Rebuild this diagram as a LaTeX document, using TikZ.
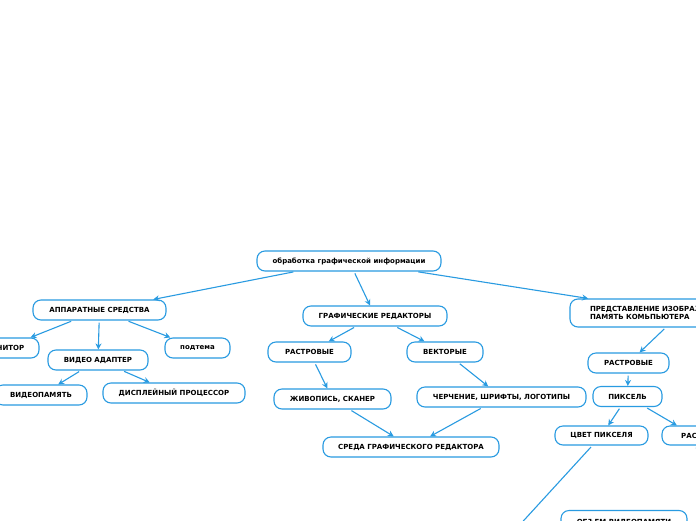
\documentclass[tikz,border=0pt]{standalone}
\usepackage{fontspec}
\setmainfont{DejaVu Sans}
\usetikzlibrary{arrows.meta}

\definecolor{mapblue}{RGB}{41,155,225}

\begin{document}
\begin{tikzpicture}[x=1pt,y=-1pt,
    topic/.style={draw=mapblue, line width=1.1pt, rounded corners=8pt, fill=white,
        minimum height=20pt, inner sep=2pt, font=\fontsize{7}{8.4}\selectfont\bfseries},
    link/.style={draw=mapblue, line width=1.1pt, shorten <=2pt,
        -{Stealth[length=6pt,width=6pt]}}]

    % Fix the frame of the picture
    \path[use as bounding box, clip] (0,0) rectangle (696,520);
    \fill[white] (0,0) rectangle (696,520);

    % Central topic
    \node[topic, minimum width=184pt] (root) at (349,261) {обработка графической информации};

    % Hardware branch
    \node[topic, minimum width=133pt] (hard) at (99.5,310) {АППАРАТНЫЕ СРЕДСТВА};
    \node[topic, minimum width=70pt] (monitor) at (4,348) {МОНИТОР};
    \node[topic, minimum width=100pt] (adapter) at (98,360) {ВИДЕО АДАПТЕР};
    \node[topic, minimum width=65pt] (subtopic) at (197.5,348) {подтема};
    \node[topic, minimum width=92pt] (vmem) at (41,395) {ВИДЕОПАМЯТЬ};
    \node[topic, minimum width=142pt] (cpu) at (174,393) {ДИСПЛЕЙНЫЙ ПРОЦЕССОР};

    % Editors branch
    \node[topic, minimum width=144pt] (editors) at (375,316) {ГРАФИЧЕСКИЕ РЕДАКТОРЫ};
    \node[topic, minimum width=83pt] (raster) at (309.5,352) {РАСТРОВЫЕ};
    \node[topic, minimum width=76pt] (vector) at (445,352) {ВЕКТОРЫЕ};
    \node[topic, minimum width=117pt] (paint) at (332.5,399) {ЖИВОПИСЬ, СКАНЕР};
    \node[topic, minimum width=169pt] (drawing) at (501.5,397) {ЧЕРЧЕНИЕ, ШРИФТЫ, ЛОГОТИПЫ};
    \node[topic, minimum width=176pt] (env) at (411,447) {СРЕДА ГРАФИЧЕСКОГО РЕДАКТОРА};

    % Representation branch
    \node[topic, minimum height=28pt, text width=182pt, inner xsep=20pt, align=left,
        font=\fontsize{7}{8.6}\selectfont\bfseries] (repr) at (681,313)
        {ПРЕДСТАВЛЕНИЕ ИЗОБРАЖЕНИЯ В\\ПАМЯТЬ КОМЬПЬЮТЕРА};
    \node[topic, minimum width=81pt] (rasterb) at (628.5,363) {РАСТРОВЫЕ};
    \node[topic, minimum width=69pt] (pixel) at (627.5,396.5) {ПИКСЕЛЬ};
    \node[topic, minimum width=93pt, minimum height=19pt] (color) at (601.5,435.5) {ЦВЕТ ПИКСЕЛЯ};
    \node[topic, minimum width=64pt, minimum height=19pt] (grid) at (694,435.5) {РАСТР};
    \node[topic, minimum width=126pt, minimum height=24pt] (volume) at (624,522.5) {ОБЪЕМ ВИДЕОПАМЯТИ};

    % Free ends below the frame
    \coordinate (colorend) at (451,600);
    \coordinate (gridend) at (710,520);

    % Connectors
    \draw[link] (root) -- (hard);
    \draw[link] (root) -- (editors);
    \draw[link] (root) -- (repr);

    \draw[link] (hard) -- (monitor);
    \draw[link] (hard) -- (adapter);
    \draw[link] (hard) -- (subtopic);
    \draw[link] (adapter) -- (vmem);
    \draw[link] (adapter) -- (cpu);

    \draw[link] (editors) -- (raster);
    \draw[link] (editors) -- (vector);
    \draw[link] (raster) -- (paint);
    \draw[link] (vector) -- (drawing);
    \draw[link] (paint) -- (env);
    \draw[link] (drawing) -- (env);

    \draw[link] (repr) -- (rasterb);
    \draw[link] (rasterb) -- (pixel);
    \draw[link] (pixel) -- (color);
    \draw[link] (pixel) -- (grid);
    \draw[link] (color) -- (colorend);
    \draw[link] (grid) -- (gridend);
\end{tikzpicture}
\end{document}
